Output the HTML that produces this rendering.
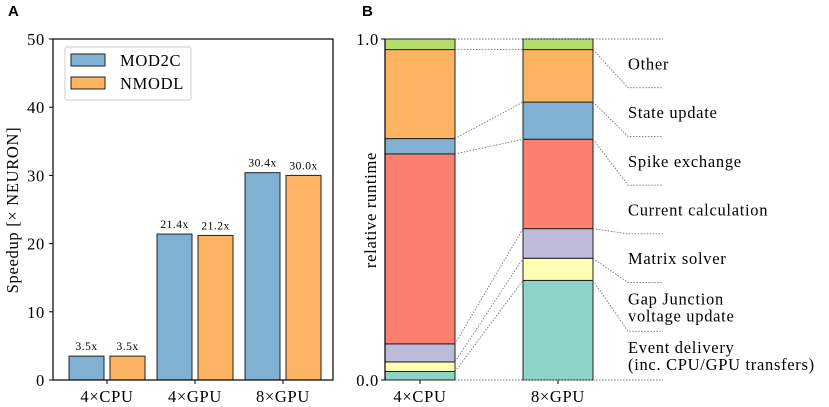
<!DOCTYPE html>
<html><head><meta charset="utf-8"><style>
html,body{margin:0;padding:0;background:#fff;}
svg{display:block;font-family:"Liberation Serif",serif;}
.t{font-size:16.5px;letter-spacing:0.7px;}
.v{font-size:11.5px;letter-spacing:0.5px;}
</style></head><body>
<svg id="c" width="829" height="407" viewBox="0 0 829 407" xmlns="http://www.w3.org/2000/svg"></svg>
<script>
const groups = ["4×CPU","4×GPU","8×GPU"];
const mod2c = [3.5,21.4,30.4];
const nmodl = [3.5,21.2,30.0];
const yTicksA = [0,10,20,30,40,50];
const stackCats = ["4×CPU","8×GPU"];
const components = ["Event delivery","Gap Junction","Matrix solver","Current calculation","Spike exchange","State update","Other"];
const fracCPU = [0.025,0.028,0.053,0.557,0.045,0.261,0.031];
const fracGPU = [0.292,0.065,0.087,0.262,0.109,0.154,0.031];
const compColors = ["#8dd3c7","#ffffb3","#bebada","#fb8072","#80b1d3","#fdb462","#b3de69"];
const labelLines = [["Event delivery","(inc. CPU/GPU transfers)"],["Gap Junction","voltage update"],["Matrix solver"],["Current calculation"],["Spike exchange"],["State update"],["Other"]];

const NS="http://www.w3.org/2000/svg";
const svg=document.getElementById('c');
function mk(t,a,p){const e=document.createElementNS(NS,t);for(const k in a)e.setAttribute(k,a[k]);(p||svg).appendChild(e);return e;}

// Panel A
const A={x0:53,x1:333,y0:380,y1:39};
const yA=v=>A.y0-(v/50)*(A.y0-A.y1);
const centers=[107,195,283];
const bw=35, gap=6;
let t=mk('text',{x:8,y:16,'font-family':'Liberation Sans, sans-serif','font-weight':'bold','font-size':15});t.textContent='A';

groups.forEach((g,i)=>{
  [[mod2c,'#80b1d3',-1],[nmodl,'#fdb462',1]].forEach(([arr,col,s],j)=>{
    const x=s<0?centers[i]-gap/2-bw:centers[i]+gap/2;
    const r=mk('rect',{x:x,y:yA(arr[i]),width:bw,height:yA(0)-yA(arr[i]),fill:col,stroke:'#222','stroke-width':1});
    
    
    const tx=mk('text',{x:x+bw/2,y:yA(arr[i])-6,'text-anchor':'middle','class':'v'});
    tx.textContent=arr[i].toFixed(1)+'x';
    
    
  });
  mk('line',{x1:centers[i],x2:centers[i],y1:A.y0,y2:A.y0+4,stroke:'#000'});
  const tl=mk('text',{x:centers[i],y:A.y0+22,'text-anchor':'middle','class':'t'});tl.textContent=g;
  
  
});
yTicksA.forEach(v=>{
  mk('line',{x1:A.x0-4,x2:A.x0,y1:yA(v),y2:yA(v),stroke:'#000'});
  const tl=mk('text',{x:A.x0-8,y:yA(v)+6,'text-anchor':'end','class':'t'});tl.textContent=v;
  
  
});
mk('rect',{x:A.x0,y:A.y1,width:A.x1-A.x0,height:A.y0-A.y1,fill:'none',stroke:'#000','stroke-width':1.2});
t=mk('text',{transform:'translate(18,210) rotate(-90)','text-anchor':'middle','class':'t'});t.textContent='Speedup [× NEURON]';

const lg=mk('g',{});
mk('rect',{x:65,y:47,width:126,height:53,fill:'#fff',stroke:'#ccc',rx:2},lg);
[['MOD2C','#80b1d3',60],['NMODL','#fdb462',83]].forEach(([n,c,y])=>{
  mk('rect',{x:71,y:y-6,width:34,height:12,fill:c,stroke:'#222'},lg);
  const e=mk('text',{x:120,y:y+6,'class':'t'},lg);e.textContent=n;
  
});

// Panel B
const B={x0:385,y0:380,y1:39};
const yB=v=>B.y0-v*(B.y0-B.y1);
const bx=[385,523], bW=70, lx=628, lend=663;
t=mk('text',{x:362,y:16,'font-family':'Liberation Sans, sans-serif','font-weight':'bold','font-size':15});t.textContent='B';

const dot={stroke:'#777','stroke-width':0.9,'stroke-dasharray':'1.5,1.5',fill:'none'};
function cum(a){let s=0;return a.map(v=>(s+=v));}
const cC=cum(fracCPU), cG=cum(fracGPU);
[fracCPU,fracGPU].forEach((fr,b)=>{
  let s=0;
  fr.forEach((v,k)=>{
    const r=mk('rect',{x:bx[b],y:yB(s+v),width:bW,height:yB(s)-yB(s+v),fill:compColors[k],stroke:'#222','stroke-width':1});
    
    
    s+=v;
  });
  const tc=bx[b]+bW/2;
  mk('line',{x1:tc,x2:tc,y1:B.y0,y2:B.y0+4,stroke:'#000'});
  const tl=mk('text',{x:tc,y:B.y0+22,'text-anchor':'middle','class':'t'});tl.textContent=stackCats[b];
  
  
});
for(let k=0;k<components.length-1;k++){
  mk('line',Object.assign({x1:bx[0]+bW,y1:yB(cC[k]),x2:bx[1],y2:yB(cG[k])},dot));
}
mk('line',Object.assign({x1:bx[0]+bW,y1:yB(1),x2:lend,y2:yB(1)},dot));
mk('line',Object.assign({x1:bx[0]+bW,y1:yB(0),x2:lend,y2:yB(0)},dot));
const n=components.length, slot=(B.y0-B.y1)/n;
for(let k=0;k<n;k++){
  if(k<n-1){
    const ly=B.y0-(k+1)*slot;
    mk('polyline',Object.assign({points:`${bx[1]+bW},${yB(cG[k])} ${lx},${ly} ${lend},${ly}`},dot));
  }
  const lines=labelLines[k];
  const mid=B.y0-(k+0.5)*slot;
  lines.forEach((L,i)=>{
    const e=mk('text',{x:lx,y:mid+6+(i-(lines.length-1)/2)*17,'class':'t'});
    e.textContent=L;
    
    
  });
}
mk('line',{x1:B.x0,x2:B.x0,y1:B.y1,y2:B.y0,stroke:'#000','stroke-width':1.2});
[[0,'0.0'],[1,'1.0']].forEach(([v,s])=>{
  mk('line',{x1:B.x0-4,x2:B.x0,y1:yB(v),y2:yB(v),stroke:'#000'});
  const tl=mk('text',{x:B.x0-6,y:yB(v)+6,'text-anchor':'end','class':'t'});tl.textContent=s;
  
  
});
t=mk('text',{transform:'translate(376,210) rotate(-90)','text-anchor':'middle','class':'t'});t.textContent='relative runtime';

</script>
</body></html>
